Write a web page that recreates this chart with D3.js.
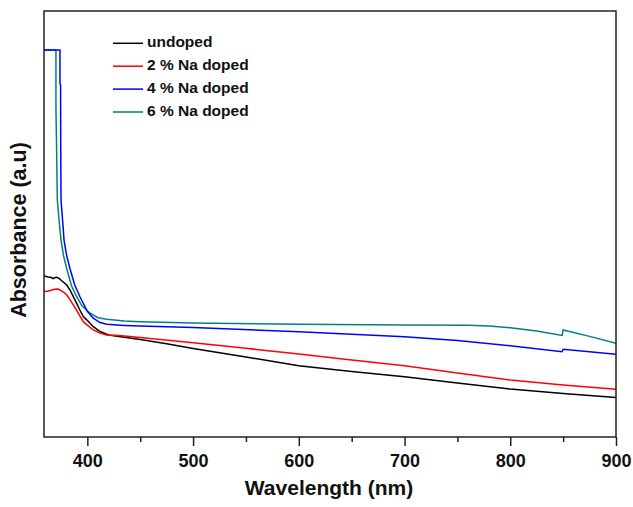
<!DOCTYPE html>
<html>
<head>
<meta charset="utf-8">
<script src="https://cdn.jsdelivr.net/npm/d3@7"></script>
<style>
  body { margin: 0; background: #fff; }
  text { font-family: Arial, "Liberation Sans", sans-serif; font-weight: bold; }
</style>
</head>
<body>
<script>
const width = 633;
const height = 507;
const margin = {top: 11, right: 17, bottom: 70, left: 44};

// Data: [wavelength (nm), absorbance (a.u)]
const undoped = [
  [359, 1.512], [363, 1.503], [366, 1.497], [367.8, 1.487], [369, 1.495], [371, 1.50],
  [373, 1.492], [376, 1.465], [380.5, 1.427], [383.6, 1.38], [386.7, 1.318], [389.9, 1.255],
  [393, 1.19], [396.2, 1.13], [399.4, 1.10], [405.6, 1.036], [412, 0.99], [420, 0.958],
  [430, 0.944], [450, 0.915], [475, 0.875], [500, 0.83], [550, 0.751], [600, 0.670],
  [650, 0.615], [700, 0.566], [750, 0.507], [800, 0.451], [850, 0.408], [900, 0.371]
];
const na2 = [
  [359, 1.365], [362, 1.368], [365, 1.375], [368, 1.385], [371, 1.39], [373, 1.387],
  [375, 1.375], [378, 1.355], [380.5, 1.333], [383.6, 1.29], [386.7, 1.24], [389.9, 1.19],
  [393, 1.135], [396.2, 1.083], [400, 1.05], [405.6, 1.005], [412, 0.975], [418.3, 0.958],
  [430, 0.952], [450, 0.935], [500, 0.886], [550, 0.833], [600, 0.779], [650, 0.723],
  [700, 0.670], [750, 0.601], [800, 0.535], [850, 0.488], [900, 0.448]
];
const na4 = [
  [359, 3.634], [374.1, 3.634], [374.1, 3.324], [374.7, 3.30], [374.8, 2.79], [375.1, 2.225],
  [377.3, 1.944], [377.9, 1.85], [380.5, 1.70], [383.6, 1.58], [388, 1.43], [393, 1.317],
  [400, 1.18], [405.6, 1.115], [412, 1.075], [418.3, 1.058], [435, 1.048], [450, 1.042],
  [500, 1.028], [600, 0.989], [700, 0.942], [750, 0.906], [800, 0.857], [849, 0.801],
  [850, 0.824], [900, 0.778]
];
const na6 = [
  [359, 3.634], [370.3, 3.634], [370.3, 3.08], [370.8, 2.79], [371.6, 2.225], [374.1, 1.944],
  [375.1, 1.85], [377.5, 1.70], [380.5, 1.58], [385, 1.42], [389.9, 1.317], [395, 1.23],
  [402.5, 1.162], [410, 1.12], [418.3, 1.105], [435, 1.09], [450, 1.083], [500, 1.07],
  [600, 1.058], [700, 1.052], [760, 1.05], [780, 1.043], [800, 1.026], [825, 0.995],
  [849, 0.953], [850, 1.005], [875, 0.945], [900, 0.880]
];

const seriesNames = ["undoped", "2 % Na doped", "4 % Na doped", "6 % Na doped"];
const seriesColors = ["#000000", "#ff0000", "#0000ff", "#008080"];
const seriesData = [undoped, na2, na4, na6];

const majorTicks = [400, 500, 600, 700, 800, 900];
const minorTicks = [450, 550, 650, 750, 850];

const svg = d3.select("body")
  .append("svg")
  .attr("width", width)
  .attr("height", height);

const innerW = width - margin.left - margin.right;
const innerH = height - margin.top - margin.bottom;

const x = d3.scaleLinear().domain([359, 900]).range([margin.left, margin.left + innerW]);
const y = d3.scaleLinear().domain([0, 4]).range([margin.top + innerH, margin.top]);

svg.append("clipPath").attr("id", "plot-clip")
  .append("rect")
  .attr("x", margin.left).attr("y", margin.top)
  .attr("width", innerW).attr("height", innerH);

// Curves (blue drawn last so it sits on the saturated top)
const line = d3.line().x(d => x(d[0])).y(d => y(d[1]));
const drawOrder = [0, 1, 3, 2];
svg.append("g").attr("clip-path", "url(#plot-clip)")
  .selectAll("path")
  .data(drawOrder)
  .enter()
  .append("path")
  .attr("d", i => line(seriesData[i]))
  .attr("fill", "none")
  .attr("stroke", i => seriesColors[i])
  .attr("stroke-width", 1.5);

// Frame
svg.append("rect")
  .attr("x", margin.left).attr("y", margin.top)
  .attr("width", innerW).attr("height", innerH)
  .attr("fill", "none")
  .attr("stroke", "#222")
  .attr("stroke-width", 1.5);

// X axis: major + minor ticks
const xAxis = svg.append("g")
  .attr("transform", `translate(0,${margin.top + innerH})`)
  .call(d3.axisBottom(x).tickValues(majorTicks).tickSize(9).tickPadding(8));
xAxis.select(".domain").remove();
xAxis.selectAll(".tick line").attr("stroke", "#222").attr("stroke-width", 1.5);
xAxis.selectAll(".tick text")
  .attr("font-size", 18)
  .attr("fill", "#111");

const xMinor = svg.append("g")
  .attr("transform", `translate(0,${margin.top + innerH})`)
  .call(d3.axisBottom(x).tickValues(minorTicks).tickSize(5).tickFormat(""));
xMinor.select(".domain").remove();
xMinor.selectAll(".tick line").attr("stroke", "#222").attr("stroke-width", 1.5);

// Axis titles
svg.append("text")
  .attr("x", 329)
  .attr("y", 495)
  .attr("text-anchor", "middle")
  .attr("font-size", 21)
  .attr("fill", "#111")
  .text("Wavelength (nm)");

svg.append("text")
  .attr("transform", "translate(26,230) rotate(-90)")
  .attr("text-anchor", "middle")
  .attr("font-size", 21.5)
  .attr("fill", "#111")
  .text("Absorbance (a.u)");

// Legend
const legend = svg.append("g")
  .selectAll("g")
  .data(seriesNames)
  .enter()
  .append("g")
  .attr("transform", (d, i) => `translate(0,${47.3 + i * 22.9})`);

legend.append("line")
  .attr("x1", 113).attr("x2", 143)
  .attr("y1", -4).attr("y2", -4)
  .attr("stroke", (d, i) => seriesColors[i])
  .attr("stroke-width", 1.5);

legend.append("text")
  .attr("x", 147)
  .attr("y", 0)
  .attr("font-size", 15.5)
  .attr("fill", "#111")
  .text(d => d);
</script>
</body>
</html>
